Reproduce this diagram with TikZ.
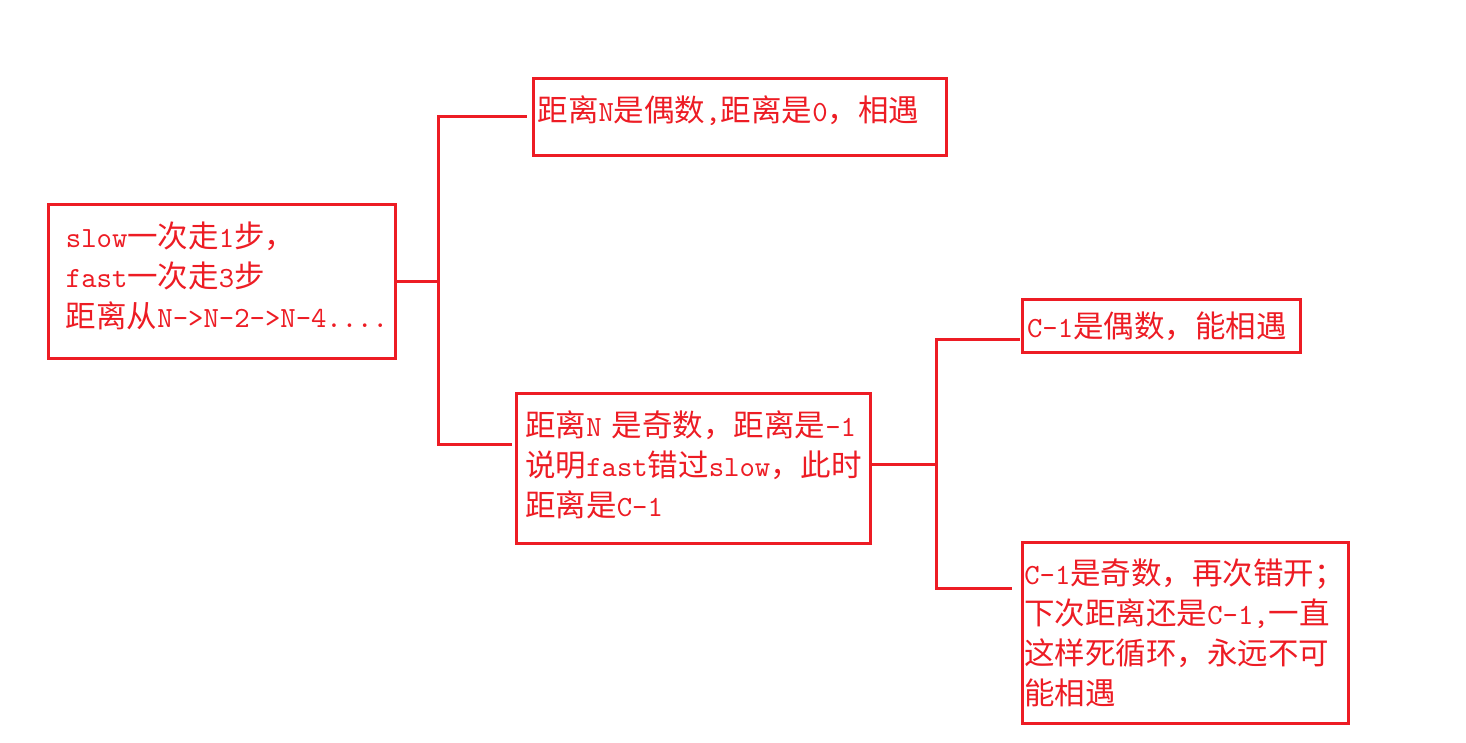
\documentclass[tikz,border=0pt]{standalone}
\usepackage{fontspec}
\setmainfont{Noto Sans CJK SC}
\newfontfamily\latinmono[Scale=0.96]{lmmono10-regular.otf}
\newcommand{\en}[1]{\mbox{\latinmono #1}}
\usetikzlibrary{calc}
\definecolor{paintred}{RGB}{237,28,36}

\begin{document}
\begin{tikzpicture}[x=1pt, y=-1pt, line width=3pt,
  box/.style={draw=paintred, text=paintred, inner ysep=0pt, align=left,
              font=\fontsize{30.5}{40}\selectfont},
  wire/.style={draw=paintred}]
  \useasboundingbox (0,0) rectangle (1466,743);
  \node[box, inner xsep=17pt, text width=313pt, minimum height=153.5pt, text depth=93.5pt] (start) at (222.4,281.3)
       {\en{slow}一次走\en{1}步，\\ \en{fast}一次走\en{3}步\\ 距离从\en{N->N-2->N-4....}};
  \node[box, inner xsep=4pt, text width=405pt, minimum height=76.3pt, text depth=17pt] (even) at (740,116.9)
       {距离\en{N}是偶数\en{,}距离是\en{0}，相遇};
  \node[box, inner xsep=9pt, text width=336pt, minimum height=150.7pt, text depth=90.5pt] (odd) at (693.3,468.4)
       {距离\en{N }是奇数，距离是\en{-1}\\ 说明\en{fast}错过\en{slow}，此时\\ 距离是\en{C-1}};
  \node[box, inner xsep=5pt, text width=268.7pt, minimum height=52.6pt] (meet) at (1161.4,326)
       {\en{C-1}是偶数，能相遇};
  \node[box, inner xsep=2pt, text width=321.7pt, minimum height=180.7pt] (loop) at (1185.2,632.7)
       {\en{C-1}是奇数，再次错开；\\ 下次距离还是\en{C-1,}一直\\ 这样死循环，永远不可\\ 能相遇};
  \coordinate (fork1) at ($(start.east)+(41,0)$);
  \coordinate (fork2) at ($(odd.east)+(65,-3.5)$);
  \draw[wire] (start.east) -- (fork1);
  \draw[wire, shorten >=5pt] (fork1) |- (even.west);
  \draw[wire, shorten >=3pt] (fork1) |- ([yshift=23.6pt]odd.west);
  \draw[wire] ([yshift=3.5pt]odd.east) -- (fork2);
  \draw[wire, shorten >=1pt] (fork2) |- ([yshift=-13.5pt]meet.west);
  \draw[wire, shorten >=9pt] (fork2) |- ([yshift=44.6pt]loop.west);
\end{tikzpicture}
\end{document}
